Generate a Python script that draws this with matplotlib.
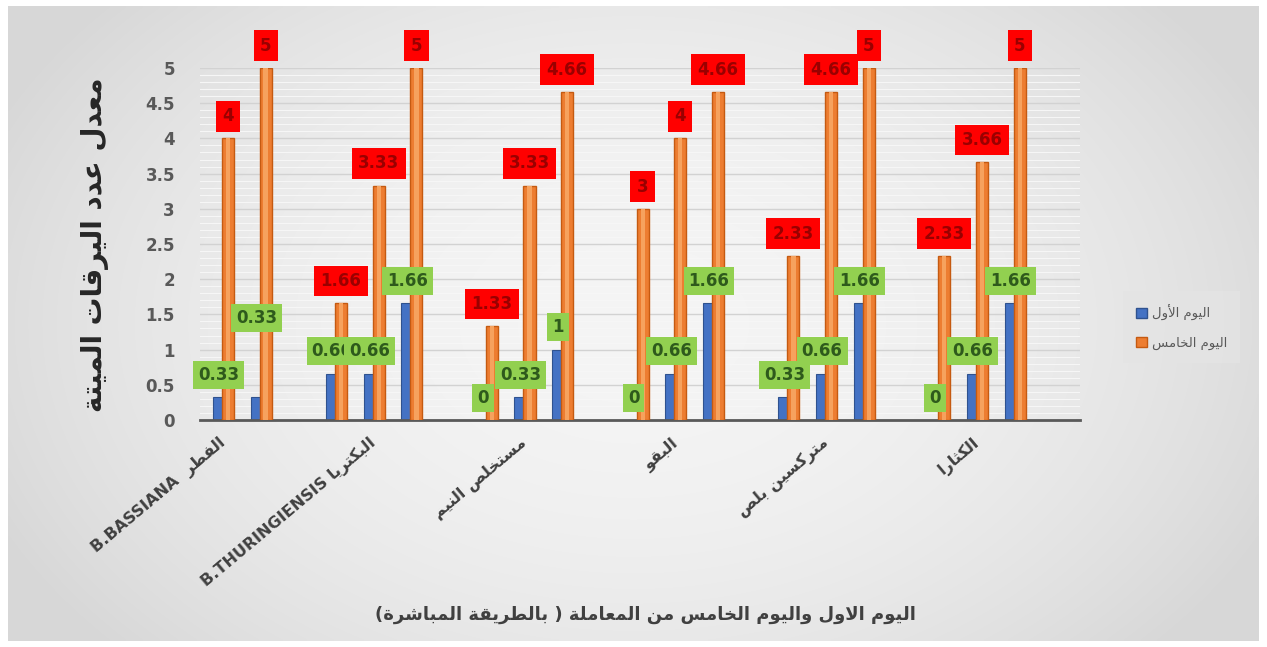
import numpy as np
import matplotlib
matplotlib.use("Agg")
import matplotlib.pyplot as plt
from matplotlib.patches import Patch

# ---------------- data ----------------
treatments = ["الفطر  B.BASSIANA", "البكتريا B.THURINGIENSIS", "مستخلص النيم",
              "البقو", "متركسين بلص", "الكثارا"]
day1 = [[np.nan, 0.33, 0.33],
        [0.66, 0.66, 1.66],
        [0, 0.33, 1],
        [0, 0.66, 1.66],
        [0.33, 0.66, 1.66],
        [0, 0.66, 1.66]]
day5 = [[np.nan, 4, 5],
        [1.66, 3.33, 5],
        [1.33, 3.33, 4.66],
        [3, 4, 4.66],
        [2.33, 4.66, 5],
        [2.33, 3.66, 5]]
series_names = ["اليوم الأول", "اليوم الخامس"]
y_title = "معدل عدد اليرقات الميتة"
x_title = "اليوم الاول واليوم الخامس من المعاملة ( بالطريقة المباشرة)"
y_ticks = [0, 0.5, 1, 1.5, 2, 2.5, 3, 3.5, 4, 4.5, 5]

# ---------------- minimal Arabic shaping (presentation forms, visual order) ----------------
FOUR = {'ئ': 0xFE89, 'ب': 0xFE8F, 'ت': 0xFE95, 'ث': 0xFE99, 'ج': 0xFE9D, 'ح': 0xFEA1,
        'خ': 0xFEA5, 'س': 0xFEB1, 'ش': 0xFEB5, 'ص': 0xFEB9, 'ض': 0xFEBD, 'ط': 0xFEC1,
        'ظ': 0xFEC5, 'ع': 0xFEC9, 'غ': 0xFECD, 'ف': 0xFED1, 'ق': 0xFED5, 'ك': 0xFED9,
        'ل': 0xFEDD, 'م': 0xFEE1, 'ن': 0xFEE5, 'ه': 0xFEE9, 'ي': 0xFEF1}
TWO = {'آ': 0xFE81, 'أ': 0xFE83, 'ؤ': 0xFE85, 'إ': 0xFE87, 'ا': 0xFE8D, 'ة': 0xFE93,
       'د': 0xFEA9, 'ذ': 0xFEAB, 'ر': 0xFEAD, 'ز': 0xFEAF, 'و': 0xFEED, 'ى': 0xFEEF,
       '\uE001': 0xFEFB, '\uE002': 0xFEF7, '\uE003': 0xFEF5, '\uE004': 0xFEF9}


def shape_word(w):
    w = (w.replace('لا', '\uE001').replace('لأ', '\uE002')
          .replace('لآ', '\uE003').replace('لإ', '\uE004'))
    out = []
    n = len(w)
    for i, ch in enumerate(w):
        if ch not in FOUR and ch not in TWO:
            out.append(ch)
            continue
        prev = w[i - 1] if i > 0 else ''
        nxt = w[i + 1] if i < n - 1 else ''
        jp = prev in FOUR
        jn = ch in FOUR and (nxt in FOUR or nxt in TWO)
        if ch in FOUR:
            base = FOUR[ch]
            code = base + 3 if (jp and jn) else base + 1 if jp else base + 2 if jn else base
        else:
            base = TWO[ch]
            code = base + 1 if jp else base
        out.append(chr(code))
    return ''.join(out)


def bidi(s):
    res = []
    for wd in reversed(s.split(' ')):
        if any('\u0600' <= c <= '\u06FF' for c in wd) or wd in ('(', ')'):
            v = shape_word(wd)[::-1].translate(str.maketrans('()', ')('))
            res.append(v)
        else:
            res.append(wd)
    return ' '.join(res)


plt.rcParams['font.family'] = ['DejaVu Sans']

W, H = 1267, 647
fig = plt.figure(figsize=(W / 100, H / 100), dpi=100, facecolor='white')

# background gradient (chart area)
bg = fig.add_axes([8 / W, 6 / H, 1 - 16 / W, 1 - 12 / H], zorder=-10)
yy, xx = np.mgrid[0:1:200j, 0:1:400j]
r = np.sqrt(((xx - 0.5) / 0.55) ** 2 + ((yy - 0.5) / 0.75) ** 2)
g = np.clip(0.96 - 0.11 * r ** 2, 0.845, 0.965)
bg.imshow(np.dstack([g, g, g]), extent=[0, 1, 0, 1], aspect='auto', interpolation='bilinear')
bg.set_axis_off()

# main plot area
ax = fig.add_axes([200 / W, 1 - 420 / H, 880 / W, 352 / H])
ax.patch.set_alpha(0)
ax.set_xlim(-0.62, 22.72)
ax.set_ylim(0, 5)

bw = 0.32
off = 0.12
blue, blue_edge = '#4472C4', '#2F528F'
orange, orange_edge = '#ED7D31', '#C55A11'

label_lift = {(0, 2): 41}   # manually moved label in the reference
z = 10
for gi in range(len(treatments)):
    for c in range(3):
        slot = 4 * gi + c - 1
        v1 = day1[gi][c]
        v5 = day5[gi][c]
        if np.isnan(v1):
            continue
        ax.bar(slot - off, v1, width=bw, color=blue, edgecolor=blue_edge, lw=0.8, zorder=2)
        ax.bar(slot + off, v5, width=bw, color=orange, edgecolor=orange_edge, lw=1.0, zorder=3)
        ax.bar(slot + off, v5, width=bw * 0.35, color='#F6A25E', lw=0, zorder=3.5)

for gi in range(len(treatments)):
    for c in range(3):
        slot = 4 * gi + c - 1
        v1 = day1[gi][c]
        v5 = day5[gi][c]
        if np.isnan(v1):
            continue
        z += 1
        ax.annotate(f"{v5:g}", xy=(slot + off, v5), xytext=(0, 16), textcoords='offset points',
                    ha='center', va='center', fontsize=12, fontweight='bold', color='#9A0000',
                    bbox=dict(boxstyle='square,pad=0.38', fc='#FF0000', ec='none'),
                    zorder=z, annotation_clip=False)
        z += 1
        ax.annotate(f"{v1:g}", xy=(slot - off, v1),
                    xytext=(0, 16 + label_lift.get((gi, c), 0)), textcoords='offset points',
                    ha='center', va='center', fontsize=12, fontweight='bold', color='#2E5A1C',
                    bbox=dict(boxstyle='square,pad=0.3', fc='#92D050', ec='none'),
                    zorder=z, annotation_clip=False)

# axes styling
ax.set_yticks(y_ticks)
ax.set_yticklabels([f"{t:g}" for t in y_ticks], fontsize=12, fontweight='bold', color='#595959')
ax.set_yticks(np.arange(0, 5.01, 0.1), minor=True)
ax.yaxis.grid(True, which='major', color='#d2d2d2', lw=1.0)
ax.yaxis.grid(True, which='minor', color='#f6f6f6', lw=0.8)
ax.set_axisbelow(True)
ax.tick_params(axis='y', which='both', length=0, pad=18)
for s in ['top', 'right', 'left']:
    ax.spines[s].set_visible(False)
ax.spines['bottom'].set_color('#595959')
ax.spines['bottom'].set_linewidth(2)

ax.set_xticks([4 * gi for gi in range(len(treatments))])
ax.set_xticklabels([bidi(t) for t in treatments], rotation=40, ha='right', va='center',
                   rotation_mode='anchor', fontsize=11.5, fontweight='bold', color='#404040')
ax.tick_params(axis='x', length=0, pad=15)

# titles
fig.text(95 / W, 1 - 245 / H, bidi(y_title), rotation=90, ha='center', va='center',
         fontsize=20, fontweight='bold', color='#262626')
fig.text(645 / W, 1 - 615 / H, bidi(x_title), ha='center', va='center',
         fontsize=13, fontweight='bold', color='#404040')

# legend
handles = [Patch(facecolor=blue, edgecolor=blue_edge), Patch(facecolor=orange, edgecolor=orange_edge)]
leg = fig.legend(handles, [bidi(n) for n in series_names], loc='center left',
                 bbox_to_anchor=(1123 / W, 1 - 327 / H), frameon=True, fontsize=9.5,
                 handlelength=0.8, handleheight=0.8, handletextpad=0.4, labelspacing=1.2,
                 borderpad=1.0, borderaxespad=0, fancybox=False)
leg.get_frame().set_facecolor('#e4e4e4')
leg.get_frame().set_edgecolor('none')
for t in leg.get_texts():
    t.set_color('#595959')

fig.savefig('out.png', dpi=100, facecolor='white')
